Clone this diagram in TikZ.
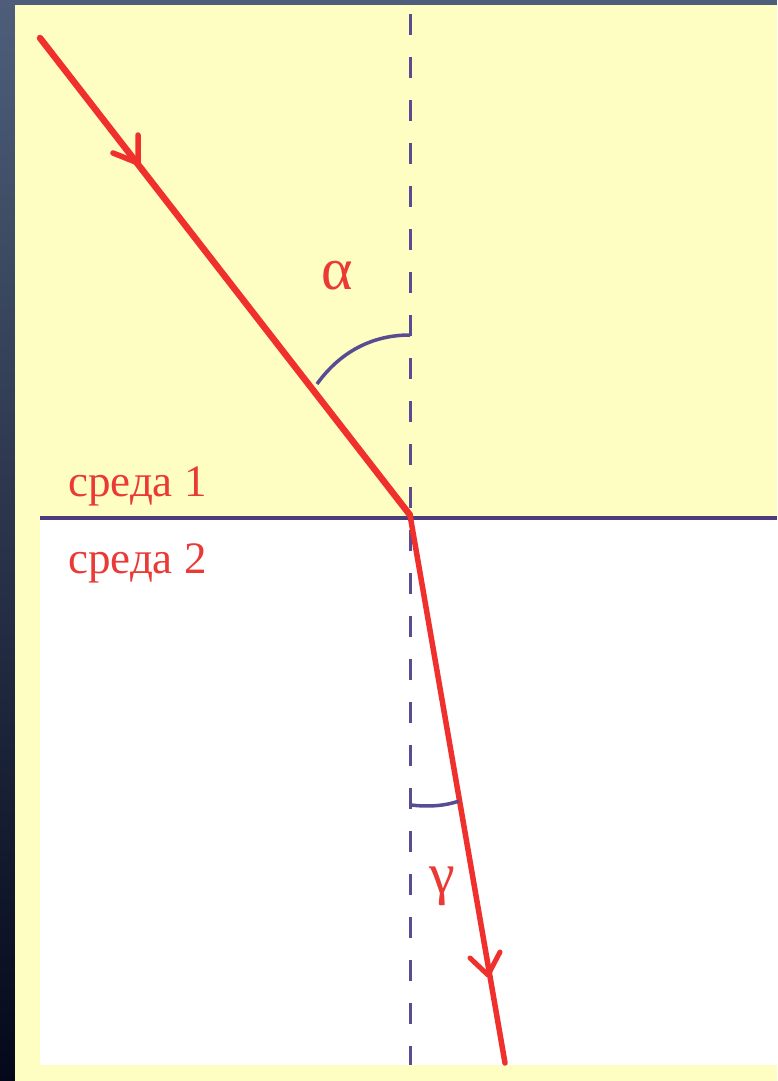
\documentclass[tikz,border=0pt]{standalone}
\usepackage{fontspec}
\setmainfont{Liberation Serif}
\definecolor{bgyel}{HTML}{FEFDC2}
\definecolor{frametop}{HTML}{4E5E7A}
\definecolor{framebot}{HTML}{04081A}
\definecolor{rayred}{HTML}{F0302C}
\definecolor{txtred}{HTML}{EA3A36}
\definecolor{normcol}{HTML}{5A4C90}
\definecolor{bordcol}{HTML}{4C3C7C}
\tikzset{
  ray/.style={draw=rayred, line width=6.5pt, line cap=round, line join=round},
  normalline/.style={draw=normcol, line width=3pt, dash pattern=on 21pt off 22pt},
  anglearc/.style={draw=normcol, line width=3.5pt},
  lbl/.style={text=txtred, inner sep=0pt},
}
\begin{document}
\begin{tikzpicture}[x=1pt,y=-1pt]
\useasboundingbox (0,0) rectangle (777,1081);
% frame
\shade[top color=frametop, bottom color=framebot] (0,0) rectangle (15,1081);
\fill[frametop] (15,0) rectangle (777,5);
% media
\fill[bgyel] (15,5) rectangle (777,1081);
\fill[white] (40,519) rectangle (777,1065);
% interface
\coordinate (L) at (40,518);
\coordinate (R) at (777,518);
\draw[draw=bordcol, line width=4.5pt] (L) -- (R);
% normal
\coordinate (Ntop) at (410,14);
\coordinate (Nbot) at (410,1065);
\draw[normalline] (Ntop) -- (Nbot);
% rays
\coordinate (S) at (40,38);
\coordinate (O) at (410,515);
\coordinate (E) at (505,1063);
\draw[ray] (S) -- (O);
\draw[ray, line width=5.5pt] (O) -- (E);
% arrowheads
\coordinate (t1) at (138,163);
\coordinate (w1a) at (138,135);
\coordinate (w1b) at (113,153);
\draw[ray, line width=5.5pt] (w1a) -- (t1) -- (w1b);
\coordinate (t2) at (488,975);
\coordinate (w2a) at (470,958);
\coordinate (w2b) at (500,952);
\draw[ray, line width=5pt] (w2a) -- (t2) -- (w2b);
% angle arcs
\coordinate (a1) at (317,384);
\coordinate (a2) at (410,335);
\draw[anglearc] (a1) .. controls (340,352) and (372,335) .. (a2);
\coordinate (g1) at (411,805);
\coordinate (g2) at (459,801);
\draw[anglearc] (g1) .. controls (428,807) and (445,806) .. (g2);
% labels
\node[lbl, font=\fontsize{60}{60}\selectfont] (alpha) at (337,276) {α};
\node[lbl, font=\fontsize{58}{58}\selectfont] (gamma) at (442,886) {γ};
\node[lbl, anchor=base west, font=\fontsize{45}{45}\selectfont] (m1) at (68,496) {среда 1};
\node[lbl, anchor=base west, font=\fontsize{45}{45}\selectfont] (m2) at (68,573) {среда 2};
\end{tikzpicture}
\end{document}
